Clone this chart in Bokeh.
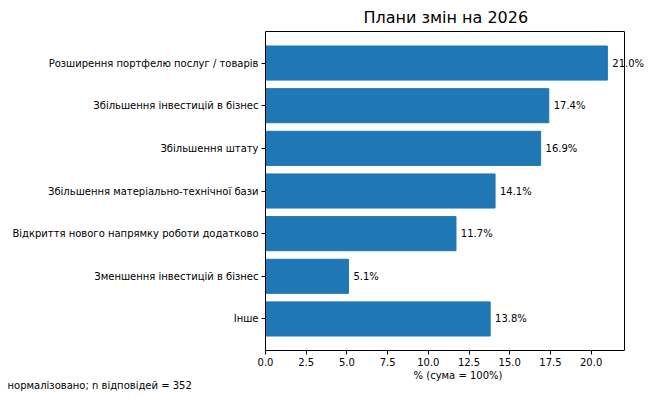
from bokeh.plotting import figure
from bokeh.models import (Range1d, FixedTicker, NumeralTickFormatter, ColumnDataSource,
                          LinearAxis, Span, Title)
from bokeh.core.properties import value
from bokeh.embed import file_html
from bokeh.resources import INLINE

categories = [
    "Розширення портфелю послуг / товарів",
    "Збільшення інвестицій в бізнес",
    "Збільшення штату",
    "Збільшення матеріально-технічної бази",
    "Відкриття нового напрямку роботи додатково",
    "Зменшення інвестицій в бізнес",
    "Інше",
]
shares = [21.0, 17.4, 16.9, 14.1, 11.7, 5.1, 13.8]
x_ticks = [0.0, 2.5, 5.0, 7.5, 10.0, 12.5, 15.0, 17.5, 20.0]
title_text = "Плани змін на 2026"
x_label = "% (сума = 100%)"
note_text = "нормалізовано; n відповідей = 352"

FONT = "DejaVu Sans"
FS = "10px"
n = len(categories)
pos = list(range(n))
src = ColumnDataSource(dict(
    y=pos, v=shares,
    lx=[s + 0.3 for s in shares],
    lab=[f"{s:.1f}%" for s in shares],
))

W, H = 650, 398
LB, TB, BB = 265, 31, 48
SPINE_PX = 359                     # pixel width of the axes box (to the right spine)
frame_w = W - LB
xmax = max(shares) * 1.05          # matplotlib-like 5% margin -> right spine
x_end = xmax * frame_w / SPINE_PX  # frame extends past the spine so labels are not clipped
pad = (n - 0.2) * 0.05

p = figure(width=W, height=H, output_backend="svg", toolbar_location=None,
           x_range=Range1d(0, x_end), y_range=Range1d(n - 0.6 + pad, -0.4 - pad),
           min_border_left=LB, min_border_right=0, min_border_top=TB, min_border_bottom=BB)
p.outline_line_color = None
p.xgrid.visible = False
p.ygrid.visible = False

p.hbar(y="y", right="v", left=0, height=0.8, source=src, color="#1f77b4")
p.text(x="lx", y="y", text="lab", source=src, text_align="left", text_baseline="middle",
       text_font=value(FONT), text_font_size=FS, text_color="black")

p.add_layout(Span(location=xmax, dimension="height", line_color="black", line_width=1))

for ax in (p.xaxis[0], p.yaxis[0]):
    ax.axis_line_color = "black"
    ax.major_tick_line_color = "black"
    ax.major_tick_in = 0
    ax.major_tick_out = 4
    ax.minor_tick_line_color = None
    ax.major_label_text_font = FONT
    ax.major_label_text_font_size = FS
    ax.major_label_text_color = "black"
    ax.major_label_standoff = 3

p.xaxis.bounds = (0, xmax)
p.xaxis.ticker = FixedTicker(ticks=x_ticks)
p.xaxis.formatter = NumeralTickFormatter(format="0.0")
p.xaxis.axis_label = x_label
p.xaxis.axis_label_text_font = FONT
p.xaxis.axis_label_text_font_size = FS
p.xaxis.axis_label_text_font_style = "normal"
p.xaxis.axis_label_text_color = "black"
p.xaxis.axis_label_standoff = 1

p.yaxis.ticker = FixedTicker(ticks=pos)
p.yaxis.major_label_overrides = {i: c for i, c in enumerate(categories)}

top = LinearAxis(bounds=(0, xmax), ticker=FixedTicker(ticks=[]), major_label_text_font_size="0px",
                 axis_line_color="black", major_tick_line_color=None, minor_tick_line_color=None,
                 major_tick_in=0, major_tick_out=0, major_label_standoff=0, axis_label_standoff=0)
p.add_layout(top, "above")

p.title = Title(text=title_text, align="left", text_font=FONT, text_font_size="16px",
                text_font_style="normal", text_color="black", standoff=10, offset=98)

note = Title(text=note_text, align="left", text_font=FONT, text_font_size=FS,
             text_font_style="normal", text_color="black", offset=-LB + 7, standoff=-12)
p.add_layout(note, "below")

open("out.html", "w").write(file_html(p, INLINE))
